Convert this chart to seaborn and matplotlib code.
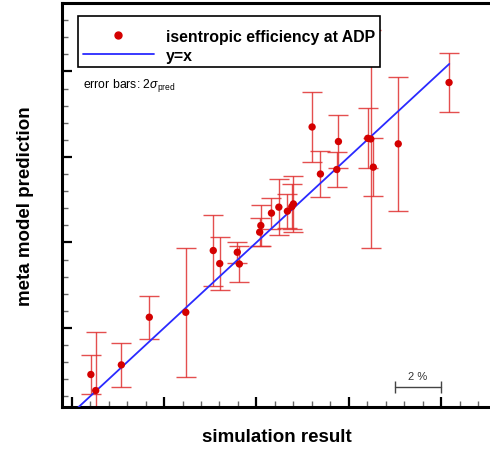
import numpy as np
import pandas as pd
import matplotlib
matplotlib.use("Agg")
import matplotlib.pyplot as plt
from matplotlib.lines import Line2D
from matplotlib.ticker import MultipleLocator
import seaborn as sns

# ---- data (efficiency, %) ----
simulation = [76.83, 77.04, 78.15, 79.36, 80.94, 82.13, 82.41, 83.17, 83.26,
              84.14, 84.19, 84.65, 84.97, 85.34, 85.53, 85.60, 86.41, 86.77,
              87.48, 87.55, 88.82, 88.95, 89.06, 90.14, 92.34]
prediction = [77.82, 77.07, 78.27, 80.50, 80.73, 83.62, 83.01, 83.54, 82.99,
              84.48, 84.79, 85.37, 85.65, 85.46, 85.67, 85.80, 89.40, 87.20,
              87.41, 88.72, 88.87, 88.84, 87.52, 88.61, 91.48]
two_sigma = [0.89, 2.73, 1.03, 1.00, 3.03, 1.68, 1.23, 0.50, 0.83,
             0.66, 0.94, 0.73, 1.31, 0.79, 1.06, 1.32, 1.64, 1.09,
             0.80, 1.25, 1.41, 5.09, 1.37, 3.15, 1.36]
identity_range = [76.0, 92.35]
scale_bar = [90.0, 92.0]   # "2 %" reference bar
scale_bar_label = "2 %"
legend_labels = ["isentropic efficiency at ADP", "y=x"]
x_label = "simulation result"
y_label = "meta model prediction"

df = pd.DataFrame({"sim": simulation, "pred": prediction, "err": two_sigma})
line_df = pd.DataFrame({"x": identity_range, "y": identity_range})

sns.set_style("ticks")
plt.rcParams["font.family"] = ["Liberation Sans", "DejaVu Sans"]
plt.rcParams["text.color"] = "black"
plt.rcParams["axes.labelcolor"] = "black"
plt.rcParams["mathtext.fontset"] = "custom"
plt.rcParams["mathtext.rm"] = "Liberation Sans"
plt.rcParams["mathtext.it"] = "Liberation Sans:italic"

fig = plt.figure(figsize=(4.9, 4.52), dpi=100)
ax = fig.add_axes([62 / 490, 44 / 452, 430 / 490, 404 / 452])

RED = "#d40000"
ERR = "#e03030"
BLUE = "#2a2aff"

ax.errorbar(df["sim"], df["pred"], yerr=df["err"], fmt="none", ecolor=ERR,
            elinewidth=1.0, capsize=7, capthick=1.0, alpha=0.85, zorder=2)
sns.lineplot(data=line_df, x="x", y="y", ax=ax, color=BLUE, lw=1.3,
             zorder=3, legend=False)
sns.scatterplot(data=df, x="sim", y="pred", ax=ax, color=RED, s=28,
                edgecolor="none", zorder=4, legend=False)

ax.set_xlim(75.58, 94.2)
ax.set_ylim(76.30, 95.20)

ax.xaxis.set_major_locator(MultipleLocator(4))
ax.xaxis.set_minor_locator(MultipleLocator(0.8))
ax.yaxis.set_major_locator(MultipleLocator(4))
ax.yaxis.set_minor_locator(MultipleLocator(0.8))
ax.tick_params(which="both", direction="in", labelbottom=False, labelleft=False,
               top=False, right=False)
ax.tick_params(which="major", length=7.5, width=1.6, color="black")
ax.tick_params(which="minor", length=4.5, width=1.0, color="#666666")

for s in ["left", "bottom", "top"]:
    ax.spines[s].set_linewidth(2.2)
    ax.spines[s].set_color("black")
ax.spines["right"].set_visible(False)

ax.set_xlabel(x_label, fontsize=13.5, fontweight="bold", labelpad=15)
ax.set_ylabel(y_label, fontsize=13.5, fontweight="bold", labelpad=20)

# legend
handles = [Line2D([], [], marker="o", color=RED, ls="none", ms=5),
           Line2D([], [], color=BLUE, lw=1.3)]
leg = ax.legend(handles, legend_labels, loc="upper left",
                bbox_to_anchor=(16 / 430, 391 / 404), borderaxespad=0,
                prop={"weight": "bold", "size": 11.4}, handlelength=4.5,
                handletextpad=0.76, borderpad=0.3, labelspacing=0.25,
                title=" ", title_fontsize=3,
                fancybox=False, framealpha=1, edgecolor="black", numpoints=1)
leg.get_frame().set_linewidth(1.2)
leg.set_zorder(10)

ax.text(21 / 430, 322 / 404, r"error bars: 2$\sigma_{\mathrm{pred}}$",
        transform=ax.transAxes, fontsize=8.8, va="center", ha="left")

# 2 % scale bar
ybar = 77.25
ax.plot(scale_bar, [ybar, ybar], color="#444444", lw=1.0,
        marker="|", ms=9, mew=1.0, zorder=5)
ax.text(np.mean(scale_bar), ybar + 0.25, scale_bar_label, ha="center",
        va="bottom", fontsize=8, color="#333333")

fig.savefig("out.png", dpi=100)
